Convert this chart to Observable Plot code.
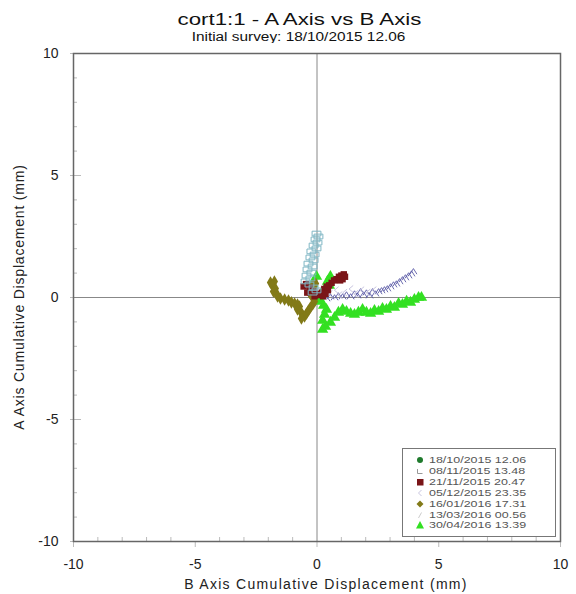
<!DOCTYPE html>
<html><head><meta charset="utf-8">
<script src="https://cdn.jsdelivr.net/npm/d3@7"></script>
<script src="https://cdn.jsdelivr.net/npm/@observablehq/plot@0.6"></script>
<style>
body{margin:0;background:#fff;font-family:"Liberation Sans",Arial,sans-serif;}
#wrap{position:relative;width:576px;height:594px;overflow:hidden;}
#title{position:absolute;top:10px;left:0;width:599px;text-align:center;font-size:17px;color:#111;line-height:20px;transform:scaleX(1.31);transform-origin:299.5px 0;}
#sub{position:absolute;top:30px;left:0;width:597px;text-align:center;font-size:12.5px;color:#111;line-height:14px;transform:scaleX(1.23);transform-origin:298.5px 0;}
#chart{position:absolute;top:43px;left:0;}
#xlab{position:absolute;top:577px;left:0;width:652px;text-align:center;font-size:14px;color:#222;line-height:14px;letter-spacing:1.3px;}
#ylab{position:absolute;left:19px;top:297px;width:300px;margin-left:-150px;margin-top:-8px;text-align:center;font-size:14px;color:#222;line-height:16px;letter-spacing:0.8px;transform:rotate(-90deg);}
#legend{position:absolute;left:402px;top:448px;width:154px;height:89px;border:1px solid #777;background:#fff;box-sizing:border-box;}
.row{position:absolute;left:0;height:10px;font-size:9.4px;color:#555;line-height:10px;}
.row svg{position:absolute;left:12px;top:0;}
.row span{position:absolute;left:26px;top:0;height:10px;white-space:nowrap;transform:scaleX(1.33);transform-origin:0 0;}
</style></head>
<body><div id="wrap">
<div id="title">cort1:1 - A Axis vs B Axis</div>
<div id="sub">Initial survey: 18/10/2015 12.06</div>
<div id="chart"></div>
<div id="xlab">B Axis Cumulative Displacement (mm)</div>
<div id="ylab">A Axis Cumulative Displacement (mm)</div>
<div id="legend"></div>
</div>
<script>
const surveyLabels = ["18/10/2015 12.06","08/11/2015 13.48","21/11/2015 20.47","05/12/2015 23.35","16/01/2016 17.31","13/03/2016 00.56","30/04/2016 13.39"];
const surveyColors = ["#1f7a2c","#7fb6c4","#7a1518","#c9c6e0","#827a18","#5a5aa6","#33e022"];
const majorTicks = [-10,-5,0,5,10];
const minorTicks = [-9,-8,-7,-6,-4,-3,-2,-1,1,2,3,4,6,7,8,9];

const s1810 = [[0,0],[0,0],[0,0]];
const s0811 = [[-0.02,2.62],[0.06,2.5],[-0.06,2.38],[0.02,2.25],[-0.14,2.13],[-0.02,2.01],[-0.23,1.89],[-0.1,1.76],[-0.27,1.64],[-0.14,1.52],[-0.35,1.39],[-0.18,1.27],[-0.39,1.15],[-0.23,1.02],[-0.43,0.9],[-0.27,0.78],[-0.47,0.66],[-0.31,0.53],[-0.14,0.41],[-0.02,0.29],[-0.18,0.2]];
const s2111 = [[-0.55,0.45],[-0.45,0.55],[-0.3,0.4],[-0.15,0.25],[0,0.15],[0.1,0.1],[0.2,0.2],[0.3,0.35],[0.4,0.45],[0.5,0.5],[0.6,0.6],[0.7,0.7],[0.8,0.75],[0.9,0.85],[1.0,0.9],[1.1,0.95],[1.15,0.85],[0.95,0.7],[0.45,0.3],[0.25,0.05],[-0.1,0.05],[-0.4,0.2],[1.05,0.75],[0.35,0.15]];
const s0512 = [[0.3,0.05],[0.55,0.15],[0.8,0.3],[0.95,0.1],[1.15,0.2],[1.4,0.35],[1.6,0.15],[1.85,0.3],[2.1,0.2],[2.35,0.3],[-0.2,-0.3],[-0.4,-0.5]];
const s1601 = [[-1.91,0.61],[-1.75,0.66],[-1.83,0.49],[-1.71,0.37],[-1.79,0.25],[-1.66,0.16],[-1.62,0.04],[-1.5,-0.04],[-1.33,-0.08],[-1.17,-0.12],[-1.05,-0.2],[-0.92,-0.25],[-0.8,-0.29],[-0.72,-0.37],[-0.8,-0.49],[-0.68,-0.57],[-0.6,-0.7],[-0.51,-0.78],[-0.64,-0.86],[-0.43,-0.66],[-0.35,-0.53],[-0.27,-0.41],[-0.18,-0.29],[-0.1,-0.16],[-0.14,-0.04],[-0.23,0.08],[-0.31,0.2],[-0.27,0.37],[-0.18,0.49],[-0.06,0.57]];
const s1303 = [[0.06,0],[0.23,0.04],[0.39,-0.04],[0.55,0.04],[0.72,0],[0.88,0.08],[1.05,0.04],[1.21,0.12],[1.38,0.04],[1.54,0.16],[1.66,0.08],[1.79,0.25],[1.91,0.12],[2.03,0.2],[2.16,0.08],[2.28,0.25],[2.4,0.16],[2.53,0.25],[2.65,0.29],[2.77,0.33],[2.89,0.37],[3.02,0.45],[3.14,0.53],[3.26,0.57],[3.39,0.66],[3.51,0.74],[3.63,0.82],[3.76,0.9],[3.88,0.98],[3.96,1.07]];
const s3004 = [[0.55,0.86],[0.43,0.66],[0.51,0.49],[0.31,0.33],[0.18,0.16],[0.06,0],[0.14,-0.16],[0.27,-0.33],[0.39,-0.49],[0.31,-0.7],[0.23,-0.94],[0.35,-1.19],[0.23,-1.31],[0.55,-1.02],[0.72,-0.82],[0.88,-0.61],[1.05,-0.49],[1.21,-0.57],[1.38,-0.66],[1.54,-0.7],[1.7,-0.61],[1.87,-0.49],[2.03,-0.61],[2.2,-0.66],[2.36,-0.53],[2.53,-0.57],[2.69,-0.45],[2.85,-0.49],[3.02,-0.37],[3.18,-0.41],[3.35,-0.25],[3.51,-0.29],[3.68,-0.16],[3.84,-0.2],[4.0,-0.08],[4.17,0],[4.29,0],[-0.02,0.86],[-0.18,0.57]];

const caret = {draw(ctx, size){const r=Math.sqrt(size/Math.PI); ctx.moveTo(-r,r*0.8); ctx.lineTo(0,-r*0.8); ctx.lineTo(r,r*0.8);}};
const lessThan = {draw(ctx, size){const r=Math.sqrt(size/Math.PI); ctx.moveTo(r*0.6,-r); ctx.lineTo(-r*0.6,0); ctx.lineTo(r*0.6,r);}};
const wideRect = {draw(ctx, size){const r=Math.sqrt(size/Math.PI); ctx.rect(-1.3*r,-0.7*r,2.6*r,1.4*r);}};

const fmt = d => String(d);
const X = d => d[0], Y = d => d[1];
const plot = Plot.plot({
  width: 576, height: 548,
  marginLeft: 73, marginRight: 16, marginTop: 10, marginBottom: 50,
  x: {domain: [-10,10]},
  y: {domain: [-10,10]},
  style: {fontFamily: "Liberation Sans, Arial, sans-serif", fontSize: "14px", color: "#222", background: "#fff"},
  marks: [
    Plot.ruleX([0], {stroke: "#888", strokeWidth: 1}),
    Plot.ruleY([0], {stroke: "#888", strokeWidth: 1}),
    Plot.axisX(minorTicks, {tickSize: -4, tickFormat: () => "", label: null, stroke: "#bbb"}),
    Plot.axisX(majorTicks, {tickSize: 6, tickPadding: 12, stroke: "#bbb", fill: "#222", tickFormat: fmt, label: null}),
    Plot.axisY(minorTicks, {tickSize: -4, tickFormat: () => "", label: null, stroke: "#bbb"}),
    Plot.axisY([-5,5], {tickSize: -8, tickFormat: () => "", label: null, stroke: "#bbb"}),
    Plot.axisY(majorTicks, {tickSize: 3, tickPadding: 12, stroke: "#bbb", fill: "#222", tickFormat: fmt, label: null}),
    Plot.frame({stroke: "#666", strokeWidth: 1.5}),
    Plot.dot(s1810, {x: X, y: Y, symbol: "circle", r: 3, fill: surveyColors[0]}),
    Plot.dot(s1303, {x: X, y: Y, symbol: caret, r: 3.5, stroke: surveyColors[5], fill: "none", strokeWidth: 0.9}),
    Plot.dot(s0512, {x: X, y: Y, symbol: lessThan, r: 3.5, stroke: surveyColors[3], fill: "none", strokeWidth: 1}),
    Plot.dot(s3004, {x: X, y: Y, symbol: "triangle", r: 4.2, fill: surveyColors[6]}),
    Plot.dot(s1601, {x: X, y: Y, symbol: "diamond", r: 3.8, fill: surveyColors[4]}),
    Plot.dot(s2111, {x: X, y: Y, symbol: "square", r: 3.6, fill: surveyColors[2]}),
    Plot.dot(s0811, {x: X, y: Y, symbol: wideRect, r: 3.4, stroke: surveyColors[1], fill: "none", strokeWidth: 1})
  ]
});
document.getElementById("chart").appendChild(plot);

const legendSymbols = ["circle","square-open","square","less","diamond","slash","triangle"];
const leg = document.getElementById("legend");
surveyLabels.forEach((lab, i) => {
  const row = document.createElement("div");
  row.className = "row";
  row.style.top = (6 + i * 10.9) + "px";
  const c = surveyColors[i];
  let shape = "";
  switch (legendSymbols[i]) {
    case "circle": shape = `<circle cx="5" cy="5" r="3" fill="${c}"/>`; break;
    case "square-open": shape = `<path d="M2.5 3 V7.5 H7.5" stroke="#999" fill="none"/>`; break;
    case "square": shape = `<rect x="2" y="2" width="6.5" height="6.5" fill="${c}"/>`; break;
    case "less": shape = `<path d="M6.5 2 L3.5 5 L6.5 8" stroke="${c}" fill="none"/>`; break;
    case "diamond": shape = `<path d="M5 1.5 L8.5 5 L5 8.5 L1.5 5Z" fill="${c}"/>`; break;
    case "slash": shape = `<path d="M3.5 8 L6.5 2.5" stroke="#ccc" fill="none"/>`; break;
    case "triangle": shape = `<path d="M5 1 L9 8.5 L1 8.5Z" fill="${c}"/>`; break;
  }
  row.innerHTML = `<svg width="10" height="10">${shape}</svg><span>${lab}</span>`;
  leg.appendChild(row);
});
</script>
</body></html>
